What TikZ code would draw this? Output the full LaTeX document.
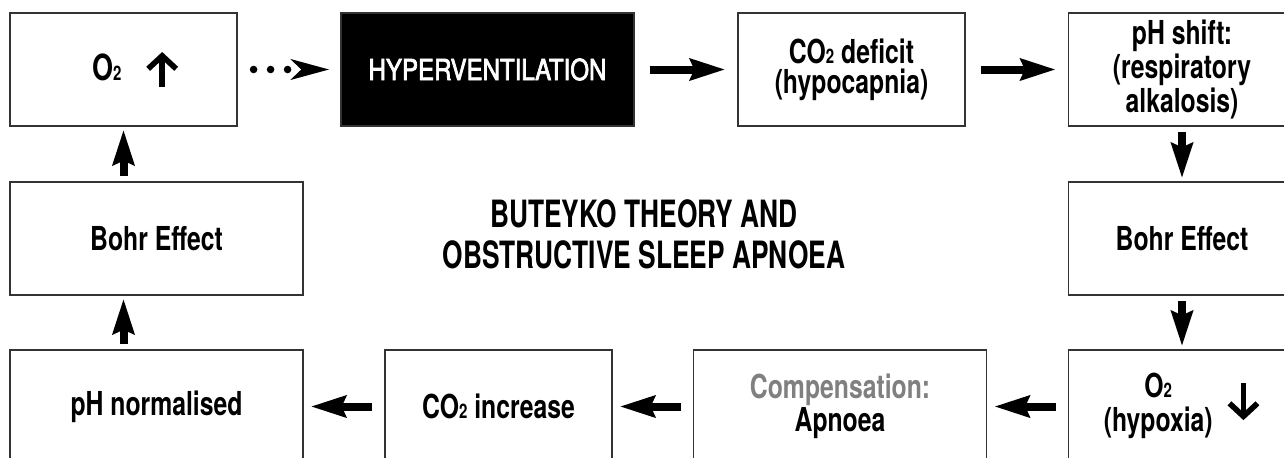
\documentclass[tikz,border=0pt]{standalone}
\usepackage{fontspec}
\setmainfont{TeX Gyre Heros}[FakeStretch=0.75]
\newfontfamily\titlefont{TeX Gyre Heros}[FakeStretch=0.70]
\newfontfamily\hyperfont{TeX Gyre Heros}[FakeStretch=0.83, FakeBold=2.5]
\usetikzlibrary{arrows.meta,positioning}
\newcommand{\low}[1]{{\fontsize{10}{10}\selectfont #1}}
\newcommand{\upmark}{\tikz[baseline=0pt, x=1pt, y=1pt] \draw[line width=2.8pt, -{Straight Barb[length=6.5pt, width=14pt]}] (0,-3.5) -- (0,14);}
\newcommand{\downmark}{\tikz[baseline=0pt, x=1pt, y=1pt] \draw[line width=2.8pt, -{Straight Barb[length=6.5pt, width=14pt]}] (0,16) -- (0,-2.5);}
\definecolor{compgray}{gray}{0.5}
\tikzset{box/.style={draw=black!80, line width=0.6pt, minimum height=56.5pt, inner sep=0pt,
		align=center, font=\fontsize{16.5}{15}\selectfont\bfseries},
	narrow/.style={box, minimum width=113.5pt},
	wide/.style={box, minimum width=146.5pt},
	flow/.style={line width=4pt, -{Stealth[length=17.5pt, width=10.5pt, inset=2pt]}},
	flowright/.style={flow, shorten <=7.5pt, shorten >=6pt},
	flowleft/.style={flow, shorten <=6pt, shorten >=3.5pt},
	flowvert/.style={flow, shorten <=2.5pt, shorten >=1.5pt},
	dotflow/.style={line width=3.8pt, line cap=round, dash pattern=on 0pt off 8.5pt,
		shorten <=8pt, shorten >=5.5pt, -{Stealth[length=19pt, width=10pt, inset=5pt]}}}

\begin{document}
\begin{tikzpicture}[x=0.5pt, y=-0.5pt]

	\useasboundingbox (0,0) rectangle (1284,457);
	\clip (0,0) rectangle (1284,457);
	\node[narrow] (oxyUp) at (123.5,69.5) {\hspace*{12pt}{\fontsize{18}{18}\selectfont O}\low{2}\hspace{12pt}\upmark};
	\node[wide, fill=black, text=white, font=\hyperfont\fontsize{14.5}{14}\selectfont] (hyper) at (487.5,69.5) {HYPERVENTILATION};
	\node[narrow] (deficit) at (851.5,69.5) {CO\low{2} deficit\\(hypocapnia)};
	\node[narrow] (shift) at (1182,69.5) {pH shift:\\(respiratory\\alkalosis)};
	\node[wide] (bohrL) at (156.5,238.5) {Bohr Effect};
	\node[align=center, font=\titlefont\bfseries\fontsize{18.8}{20.5}\selectfont] (title) at (644,234) {BUTEYKO THEORY AND\\OBSTRUCTIVE SLEEP APNOEA};
	\node[narrow] (bohrR) at (1182,238.5) {Bohr Effect};
	\node[wide] (norm) at (156.5,406.5) {pH normalised};
	\node[narrow] (increase) at (498.5,406.5) {CO\low{2} increase};
	\node[wide] (apnoea) at (840,406.5) {{\color{compgray}Compensation:}\\Apnoea};
	\node[narrow] (oxyDown) at (1182,406.5) {\begin{tabular}{@{}c@{}}O\low{2}\\(hypoxia)\end{tabular}\hspace{7pt}\downmark};

	\draw[dotflow] (oxyUp) -- (hyper);
	\draw[flowright] (hyper) -- (deficit);
	\draw[flowright] (deficit) -- (shift);
	\draw[flowvert] (shift) -- (bohrR);
	\draw[flowvert] (bohrR) -- (oxyDown);
	\draw[flowleft] (oxyDown) -- (apnoea);
	\draw[flowleft] (apnoea) -- (increase);
	\draw[flowleft] (increase) -- (norm);
	\draw[flowvert] (norm.north -| oxyUp.south) -- (bohrL.south -| oxyUp.south);
	\draw[flowvert] (bohrL.north -| oxyUp.south) -- (oxyUp.south);

\end{tikzpicture}
\end{document}
